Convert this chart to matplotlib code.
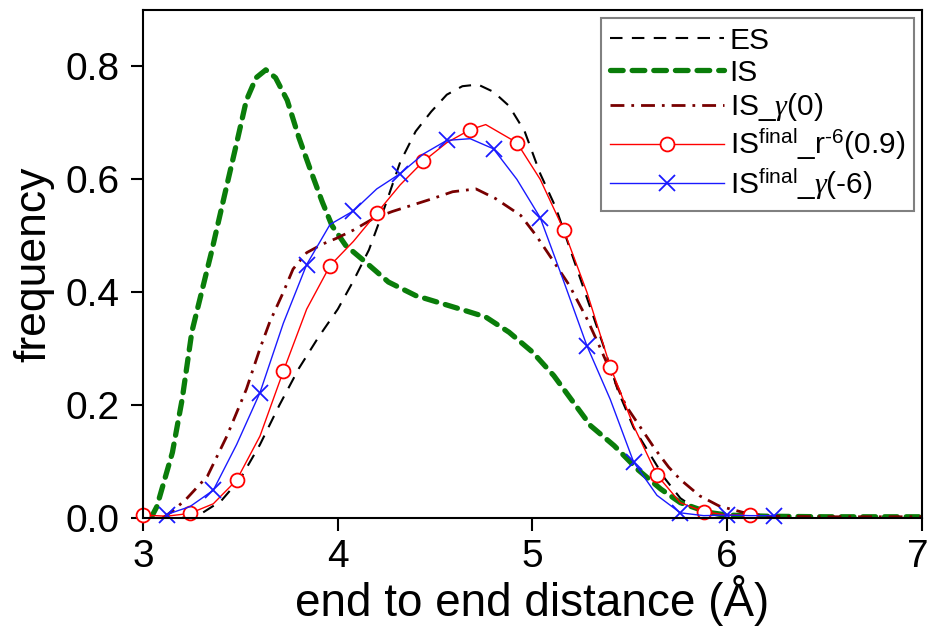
import matplotlib
matplotlib.use("Agg")
import matplotlib.pyplot as plt
from matplotlib.transforms import ScaledTranslation

plt.rcParams["font.family"] = ["Liberation Sans", "DejaVu Sans"]
plt.rcParams["mathtext.fontset"] = "custom"
plt.rcParams["mathtext.rm"] = "Liberation Sans"
plt.rcParams["mathtext.it"] = "Liberation Serif:italic"

# ES (black dashed)
es_x = [3.2, 3.3, 3.4, 3.5, 3.6, 3.7, 3.8, 3.9, 4.0, 4.08, 4.16, 4.24, 4.32, 4.4, 4.48,
        4.56, 4.64, 4.72, 4.8, 4.88, 4.96, 5.04, 5.12, 5.2, 5.28, 5.36, 5.44, 5.52,
        5.6, 5.68, 5.76, 5.84, 5.92, 6.0, 6.1]
es_y = [0.0, 0.008, 0.03, 0.07, 0.13, 0.2, 0.265, 0.32, 0.37, 0.42, 0.475, 0.55, 0.63,
        0.685, 0.72, 0.75, 0.765, 0.768, 0.755, 0.73, 0.685, 0.61, 0.55, 0.47, 0.39,
        0.31, 0.225, 0.16, 0.115, 0.07, 0.035, 0.016, 0.006, 0.002, 0.0]

# IS (green thick dashed)
is_x = [3.04, 3.07, 3.15, 3.2, 3.25, 3.3, 3.35, 3.42, 3.48, 3.53, 3.58, 3.63, 3.68,
        3.74, 3.8, 3.86, 3.92, 3.97, 4.04, 4.14, 4.26, 4.4, 4.63, 4.76, 4.88, 5.0,
        5.11, 5.21, 5.3, 5.42, 5.54, 5.66, 5.76, 5.9, 6.0, 6.2, 6.5, 7.0]
is_y = [0.0, 0.02, 0.116, 0.21, 0.33, 0.40, 0.47, 0.575, 0.664, 0.74, 0.78, 0.794,
        0.78, 0.74, 0.674, 0.616, 0.56, 0.518, 0.483, 0.454, 0.418, 0.394, 0.37,
        0.356, 0.329, 0.294, 0.252, 0.205, 0.163, 0.128, 0.086, 0.051, 0.027, 0.01,
        0.005, 0.003, 0.002, 0.002]

# IS_gamma(0) (dark red dash-dot)
isg_x = [3.1, 3.15, 3.22, 3.33, 3.43, 3.53, 3.6, 3.65, 3.72, 3.77, 3.84, 3.92, 3.99,
         4.08, 4.18, 4.28, 4.38, 4.48, 4.59, 4.71, 4.81, 4.94, 5.02, 5.1, 5.19, 5.28,
         5.35, 5.42, 5.48, 5.56, 5.63, 5.7, 5.76, 5.86, 5.96, 6.08, 6.2, 6.5, 7.0]
isg_y = [0.0, 0.012, 0.033, 0.074, 0.145, 0.228, 0.3, 0.347, 0.40, 0.441, 0.47, 0.485,
         0.495, 0.51, 0.53, 0.543, 0.554, 0.565, 0.578, 0.583, 0.566, 0.536, 0.5,
         0.459, 0.412, 0.353, 0.3, 0.245, 0.199, 0.158, 0.122, 0.09, 0.068, 0.039,
         0.021, 0.01, 0.003, 0.002, 0.002]

# IS_final r^-6 (0.9) (red, circles)
isr_x = [3.0, 3.12, 3.24, 3.36, 3.48, 3.6, 3.72, 3.84, 3.96, 4.08, 4.2, 4.32, 4.44,
         4.56, 4.68, 4.76, 4.92, 5.04, 5.16, 5.28, 5.4, 5.52, 5.64, 5.76, 5.88, 6.0, 6.12]
isr_y = [0.005, 0.003, 0.008, 0.025, 0.067, 0.145, 0.26, 0.37, 0.447, 0.49, 0.54,
         0.59, 0.632, 0.665, 0.688, 0.697, 0.665, 0.6, 0.511, 0.40, 0.268, 0.163,
         0.076, 0.027, 0.011, 0.005, 0.005]

# IS_final gamma(-6) (blue, crosses)
isb_x = [3.12, 3.24, 3.36, 3.48, 3.6, 3.72, 3.84, 3.96, 4.08, 4.2, 4.32, 4.44, 4.56,
         4.68, 4.8, 4.92, 5.04, 5.16, 5.28, 5.4, 5.52, 5.64, 5.76, 5.88, 6.0, 6.12, 6.24]
isb_y = [0.006, 0.02, 0.049, 0.13, 0.222, 0.345, 0.449, 0.52, 0.544, 0.583, 0.61,
         0.645, 0.669, 0.672, 0.654, 0.6, 0.532, 0.42, 0.305, 0.21, 0.099, 0.04,
         0.009, 0.004, 0.005, 0.004, 0.004]

fig = plt.figure(figsize=(9.3, 6.27), dpi=100)
ax = fig.add_axes([0.154, 0.174, 0.837, 0.81])

ax.plot(es_x, es_y, color="black", lw=1.5, dashes=(6, 4.5), label="ES")
ax.plot(is_x, is_y, color="#0a7d0a", lw=3.8, dashes=(2.4, 1.7),
        dash_capstyle="round", label="IS")
ax.plot(isg_x, isg_y, color="#780000", lw=2.0, dashes=(5, 2.5, 1, 2.5),
        label=r"IS_$\mathit{\gamma}$(0)")
ax.plot(isr_x, isr_y, color="red", lw=1.0, marker="o", markersize=10,
        markerfacecolor="white", markeredgecolor="red", markeredgewidth=1.3,
        markevery=2, clip_on=False, label=r"IS$^{\rm final}$_r$^{\text{-6}}$(0.9)")
ax.plot(isb_x, isb_y, color="#1a1aff", lw=1.0, marker="x", markersize=12,
        markeredgewidth=1.3, markevery=2, clip_on=False,
        label=r"IS$^{\rm final}$_$\mathit{\gamma}$(-6)")

ax.set_xlim(3, 7)
ax.set_ylim(0, 0.9)
ax.set_xticks([3, 4, 5, 6, 7])
ax.set_yticks([0.0, 0.2, 0.4, 0.6, 0.8])
ax.set_yticklabels(["0.0", "0.2", "0.4", "0.6", "0.8"])
ax.tick_params(direction="out", length=9, width=1.5, labelsize=28)
ax.tick_params(axis="y", pad=8)
ax.tick_params(axis="x", pad=6)
for sp in ax.spines.values():
    sp.set_linewidth(1.5)

# nudge the last x tick label so it stays inside the canvas
last = ax.get_xticklabels()[-1]
last.set_transform(last.get_transform() + ScaledTranslation(-4 / 100, 0, fig.dpi_scale_trans))

ax.set_xlabel("end to end distance (Å)", fontsize=33, labelpad=0)
ax.set_ylabel("frequency", fontsize=32, labelpad=8)

leg = ax.legend(loc="upper right", fontsize=21.5, handlelength=3.8, handletextpad=0.2,
                labelspacing=0.14, borderpad=0.3, borderaxespad=0, fancybox=False,
                framealpha=1, edgecolor="#808080", bbox_to_anchor=(0.99, 0.985))
leg.get_frame().set_linewidth(1.5)

fig.savefig("out.png", dpi=100)
